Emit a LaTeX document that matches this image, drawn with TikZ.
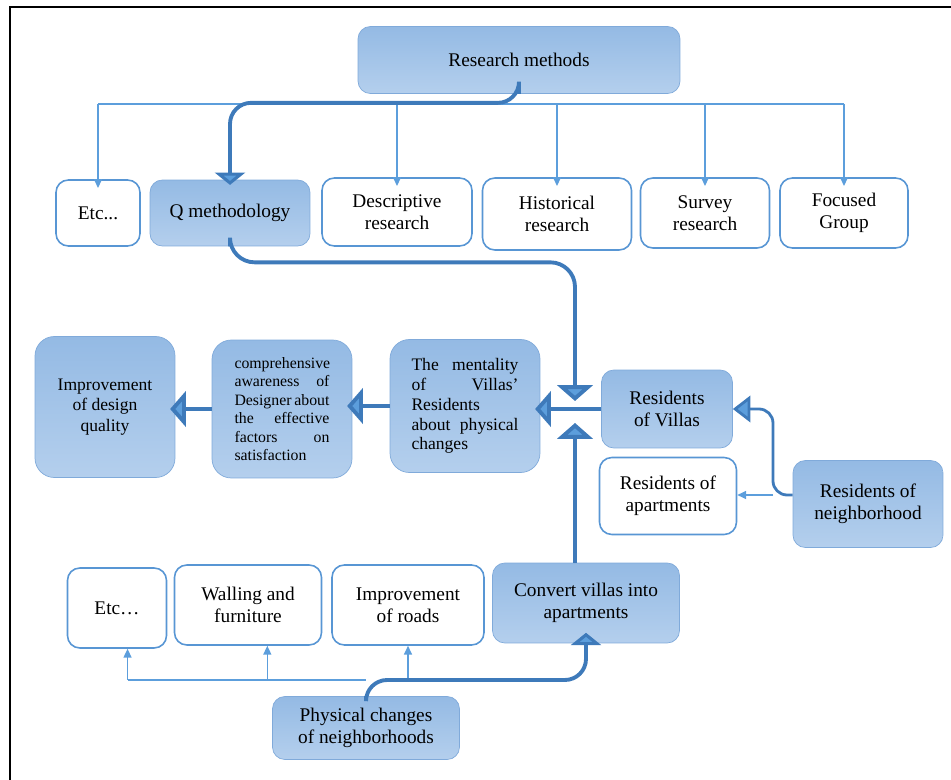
\documentclass[tikz,border=0pt]{standalone}
\usepackage{fontspec}
\setmainfont{Liberation Serif}
\usepackage{tikz}
\usetikzlibrary{positioning,arrows.meta}
\definecolor{arrowblue}{RGB}{62,122,186}
\definecolor{tipblue}{RGB}{92,158,220}
\definecolor{boxtop}{RGB}{148,186,228}
\definecolor{boxbot}{RGB}{180,207,237}
\definecolor{boxedge}{RGB}{128,170,218}
\definecolor{wedge}{RGB}{88,150,212}
\tikzset{
  fbox/.style={draw=boxedge,rounded corners=7pt,top color=boxtop,bottom color=boxbot,align=center,inner sep=2pt},
  wbox/.style={draw=wedge,line width=0.9pt,rounded corners=7pt,fill=white,align=center,inner sep=2pt},
  bigarrow/.style={draw=arrowblue,line width=2.2pt,-{Triangle[width=17pt,length=7pt,fill=tipblue]}},
  hugearrow/.style={draw=arrowblue,line width=2.2pt,-{Triangle[width=20pt,length=9pt,fill=tipblue]}},
  midarrow/.style={draw=arrowblue,line width=1.6pt,-{Triangle[width=15pt,length=10pt,fill=tipblue]}},
  thinarrow/.style={draw=tipblue,line width=0.8pt,-{Triangle[width=4.5pt,length=5pt]}},
  thinline/.style={draw=tipblue,line width=0.8pt},
}
\begin{document}
\begin{tikzpicture}[x=0.02cm,y=-0.02cm,font=\fontsize{11}{12.5}\selectfont]
  \useasboundingbox (0,0) rectangle (951,780);
  \draw[line width=1.3pt] (10,780) -- (10,7) -- (951,7);
  % research methods and the methods row
  \node[fbox,minimum width=6.44cm,minimum height=1.34cm] (rm) at (519,60) {Research methods};
  \node[wbox,minimum width=1.68cm,minimum height=1.32cm] (e1) at (98,213) {Etc...};
  \node[fbox,minimum width=3.2cm,minimum height=1.32cm] (qm) at (230,213) {Q methodology};
  \node[wbox,minimum width=3.0cm,minimum height=1.36cm] (dr) at (397,212) {Descriptive\\research};
  \node[wbox,minimum width=2.98cm,minimum height=1.44cm] (hr) at (557,214) {Historical\\research};
  \node[wbox,minimum width=2.58cm,minimum height=1.4cm] (sr) at (705,213) {Survey\\research};
  \node[wbox,minimum width=2.56cm,minimum height=1.4cm] (fg) at (844,213) {Focused\\Group};
  \coordinate (bus) at (0,104);
  \draw[thinline] (e1.north |- bus) -- (fg.north |- bus);
  \foreach \n in {e1,dr,hr,sr,fg}
    \draw[thinarrow] (\n.north |- bus) -- ([yshift=-5pt]\n.north);
  \draw[bigarrow,rounded corners=12pt] (rm.south) -- ++(0,9) -| ([yshift=-3pt]qm.north);
  % middle row
  \node[fbox,rounded corners=11pt,minimum width=2.8cm,minimum height=2.82cm,font=\fontsize{10}{11.5}\selectfont] (id) at (105,407) {Improvement\\of design\\quality};
  \node[fbox,rounded corners=11pt,minimum width=2.8cm,minimum height=2.76cm,text width=1.9cm,align=justify,font=\fontsize{9}{10.5}\selectfont] (ca) at (282,409)
    {comprehensive\linebreak awareness of\linebreak Designer about\linebreak the effective\linebreak factors on\linebreak satisfaction};
  \node[fbox,rounded corners=11pt,minimum width=3.0cm,minimum height=2.66cm,text width=2.14cm,align=justify,font=\fontsize{10}{11.3}\selectfont] (mv) at (465,406)
    {The mentality\linebreak of Villas'\linebreak Residents\\ about physical\linebreak changes};
  \node[fbox,minimum width=2.62cm,minimum height=1.56cm] (rv) at (667,409) {Residents\\of Villas};
  \node[wbox,minimum width=2.74cm,minimum height=1.54cm] (ra) at (668,496) {Residents of\\apartments};
  \node[fbox,minimum width=3.0cm,minimum height=1.74cm] (rn) at (868,504) {Residents of\\neighborhood};
  \coordinate (dn) at (575,401);
  \coordinate (up) at (575,423);
  \coordinate (nb) at (773,495);
  \draw[hugearrow,rounded corners=14pt] (qm.south) -- ++(0,16) -| (dn);
  \draw[hugearrow] (rv.west) -- ([xshift=-3pt]rv.west -| mv.east);
  \draw[hugearrow] (mv.west) -- ([xshift=-3pt]mv.west -| ca.east);
  \draw[hugearrow] (ca.west) -- ([xshift=-3pt]ca.west -| id.east);
  \draw[midarrow,rounded corners=8pt] (rn.west |- nb) -- (nb) |- (rv.east);
  \draw[thinarrow] (nb) -- (nb -| ra.east);
  % physical changes
  \node[wbox,minimum width=1.98cm,minimum height=1.6cm] (e2) at (117,608) {Etc…};
  \node[wbox,minimum width=2.94cm,minimum height=1.6cm] (wf) at (248,605) {Walling and\\furniture};
  \node[wbox,minimum width=3.04cm,minimum height=1.6cm] (ir) at (408,605) {Improvement\\of roads};
  \node[fbox,minimum width=3.74cm,minimum height=1.6cm] (cv) at (586,603) {Convert villas into\\apartments};
  \node[fbox,minimum width=3.74cm,minimum height=1.26cm] (pc) at (366,728) {Physical changes\\of neighborhoods};
  \coordinate (bb) at (0,680);
  \draw[hugearrow] (up |- cv.north) -- (up);
  \draw[thinline] ([xshift=6pt]e2.south |- bb) -- (pc.north |- bb);
  \draw[thinarrow] ([xshift=6pt]e2.south |- bb) -- ([xshift=6pt]e2.south);
  \draw[thinarrow] ([xshift=11pt]wf.south |- bb) -- ([xshift=11pt]wf.south);
  \draw[thinarrow] (ir.south |- bb) -- (ir.south);
  \draw[bigarrow,rounded corners=12pt] (pc.north) -- (pc.north |- bb) -| ([yshift=6pt]cv.south);
\end{tikzpicture}
\end{document}
